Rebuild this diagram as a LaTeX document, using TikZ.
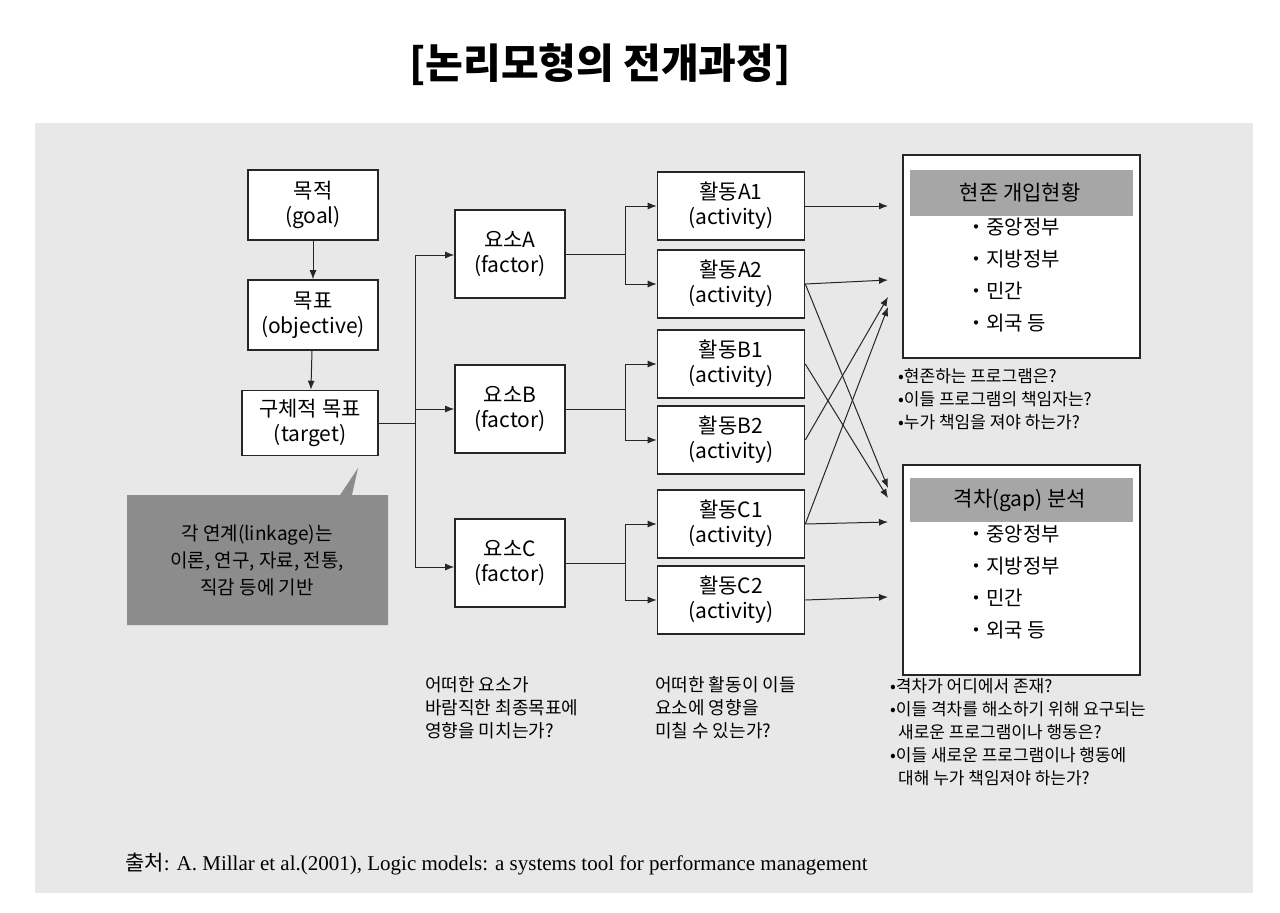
\documentclass[tikz,border=0pt]{standalone}
\usepackage{fontspec}
\setmainfont{Noto Sans CJK KR}
\newfontfamily\serifkr{Liberation Serif}
\newfontfamily\krser{Noto Sans CJK KR}
\usetikzlibrary{arrows.meta}
\begin{document}
\begin{tikzpicture}[x=1pt,y=-1pt,
  bx/.style={draw=black!85,line width=1.6pt,fill=white,align=center,font=\fontsize{21}{25}\selectfont,inner sep=0pt},
  ar/.style={-{Latex[length=9pt,width=7pt]},line width=1pt,black!85},
  ln/.style={line width=1pt,black!85},
  tx/.style={align=left,anchor=north west,font=\fontsize{18}{23}\selectfont,inner sep=0pt}]
\useasboundingbox (0,0) rectangle (1280,913);
\fill[white] (0,0) rectangle (1280,913);
\node[font=\bfseries\fontsize{41}{46}\selectfont] (title) at (600,65) {[논리모형의 전개과정]};
\fill[black!9] (35,123) rectangle (1253,893);
% left column
\node[bx,minimum width=130pt,minimum height=70pt] (goal) at (313,205) {목적\\(goal)};
\node[bx,minimum width=130pt,minimum height=70pt] (obj) at (313,315) {목표\\(objective)};
\node[bx,minimum width=136pt,minimum height=65pt] (tgt) at (310,423) {구체적 목표\\(target)};
\draw[ar] (goal) -- (obj);
\draw[ar] (obj) -- (tgt);
% callout
\fill[black!45] (127,495) -- (340,495) -- (358,468) -- (352,495) -- (388,495) -- (388,625) -- (127,625) -- cycle;
\node[align=center,font=\fontsize{19}{27}\selectfont] (call) at (257,560) {각 연계(linkage)는\\이론, 연구, 자료, 전통,\\직감 등에 기반};
% factors
\node[bx,minimum width=110pt,minimum height=88pt] (fa) at (510,254) {요소A\\(factor)};
\node[bx,minimum width=110pt,minimum height=88pt] (fb) at (510,409) {요소B\\(factor)};
\node[bx,minimum width=110pt,minimum height=88pt] (fc) at (510,563) {요소C\\(factor)};
\coordinate (bus) at (415,423);
\draw[ln] (tgt.east) -- (bus);
\draw[ln] (415,255) -- (415,567);
\draw[ar] (415,255) -- (fa.west |- 0,255);
\draw[ar] (415,409) -- (fb.west);
\draw[ar] (415,567) -- (fc.west |- 0,567);
% activities
\foreach \n/\l/\y in {a1/A1/206,a2/A2/284,b1/B1/364,b2/B2/440,c1/C1/524,c2/C2/600}
  \node[bx,minimum width=147pt,minimum height=68pt] (\n) at (731,\y) {활동\l\\(activity)};
\foreach \f/\p/\q in {fa/a1/a2,fb/b1/b2,fc/c1/c2}{
  \draw[ln] (\f.east) -- ++(60,0);
  \draw[ln] (625,0 |- \p) -- (625,0 |- \q);
  \draw[ar] (625,0 |- \p) -- (\p.west);
  \draw[ar] (625,0 |- \q) -- (\q.west);
}
% right boxes
\draw[line width=1.6pt,black!85,fill=white] (903,155) rectangle (1140,358);
\fill[black!35] (910,170) rectangle (1133,216);
\node[font=\fontsize{21}{25}\selectfont] (h1) at (1020,193) {현존 개입현황};
\node[tx,font=\fontsize{20}{32}\selectfont] (l1) at (966,218) {・중앙정부\\・지방정부\\・민간\\・외국 등};
\draw[line width=1.6pt,black!85,fill=white] (903,465) rectangle (1140,675);
\fill[black!35] (910,478) rectangle (1133,522);
\node[font=\fontsize{21}{25}\selectfont] (h2) at (1020,500) {격차(gap) 분석};
\node[tx,font=\fontsize{20}{32}\selectfont] (l2) at (966,525) {・중앙정부\\・지방정부\\・민간\\・외국 등};
\draw[ar] (a1.east) -- (888,206);
\draw[ar] (a2.east) -- (888,280);
\draw[ar] (b2.east) -- (888,297);
\draw[ar] (c1.east) -- (888,307);
\draw[ar] (a2.east) -- (888,488);
\draw[ar] (b1.east) -- (888,498);
\draw[ar] (c1.east) -- (888,522);
\draw[ar] (c2.east) -- (888,597);
% texts
\node[tx,font=\fontsize{17}{23}\selectfont] (q1) at (898,368) {•현존하는 프로그램은?\\•이들 프로그램의 책임자는?\\•누가 책임을 져야 하는가?};
\node[tx] (q2) at (425,676) {어떠한 요소가\\바람직한 최종목표에\\영향을 미치는가?};
\node[tx] (q3) at (655,676) {어떠한 활동이 이들\\요소에 영향을\\미칠 수 있는가?};
\node[tx,font=\fontsize{17}{23}\selectfont] (q4) at (890,678) {•격차가 어디에서 존재?\\•이들 격차를 해소하기 위해 요구되는\\\hspace*{8pt}새로운 프로그램이나 행동은?\\•이들 새로운 프로그램이나 행동에\\\hspace*{8pt}대해 누가 책임져야 하는가?};
\node[anchor=west,font=\fontsize{21}{24}\selectfont,inner sep=0pt] (src) at (125,864) {\krser 출처\serifkr: A. Millar et al.(2001), Logic models: a systems tool for performance management};
\end{tikzpicture}
\end{document}
